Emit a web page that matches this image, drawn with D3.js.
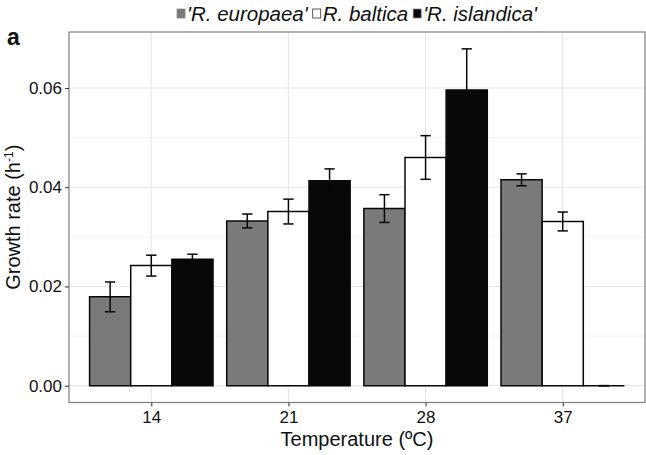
<!DOCTYPE html>
<html><head><meta charset="utf-8">
<script src="https://cdn.jsdelivr.net/npm/d3@7"></script>
<style>body{margin:0;background:#fff}svg{display:block}text{font-family:"Liberation Sans",Arial,Helvetica,sans-serif}</style>
</head><body><svg id="c" width="646" height="455"></svg>
<script>
const categories = ["14", "21", "28", "37"];
const seriesNames = ["'R. europaea'", "R. baltica", "'R. islandica'"];
const seriesColors = ["#7a7a7a", "#ffffff", "#080808"];
const europaea = [0.0179, 0.0332, 0.0357, 0.0415];
const europaeaErr = [0.0030, 0.0014, 0.0028, 0.0012];
const baltica = [0.0242, 0.0351, 0.0460, 0.0331];
const balticaErr = [0.0021, 0.0025, 0.0044, 0.0019];
const islandica = [0.0255, 0.0413, 0.0596, 0.0];
const islandicaErr = [0.0010, 0.0024, 0.0083, 0.0];
const yTicks = [0.00, 0.02, 0.04, 0.06];
const yMinor = [0.01, 0.03, 0.05, 0.07];

const values = [europaea, baltica, islandica];
const errs = [europaeaErr, balticaErr, islandicaErr];

const svg = d3.select("#c");
const L = 69, R = 645, T = 32, B = 402.5;
const FONT = '"Liberation Sans",Arial,Helvetica,sans-serif';
const INK = "#080808";

// ggplot discrete expansion: 0.6 units each side
const step = (R - L) / (categories.length - 1 + 1.2);
const xc = d3.scalePoint().domain(categories).range([L + 0.6 * step, R - 0.6 * step]);
const xs = d3.scaleBand().domain(d3.range(3)).range([-0.45 * step, 0.45 * step]);

const allHi = values.flatMap((v, i) => v.map((d, j) => d + errs[i][j]));
const ymax = d3.max(allHi);
const pad = ymax * 0.05;
const y = d3.scaleLinear().domain([-pad, ymax + pad]).range([B, T]);

// grid
const g = svg.append("g");
g.selectAll(".minor").data(yMinor.filter(v => v < ymax + pad)).join("line")
  .attr("x1", L).attr("x2", R).attr("y1", d => y(d)).attr("y2", d => y(d))
  .attr("stroke", "#f4f4f4").attr("stroke-width", 1);
g.selectAll(".major").data(yTicks).join("line")
  .attr("x1", L).attr("x2", R).attr("y1", d => y(d)).attr("y2", d => y(d))
  .attr("stroke", "#e8e8e8").attr("stroke-width", 1.1);
g.selectAll(".vmajor").data(categories).join("line")
  .attr("x1", d => xc(d)).attr("x2", d => xc(d)).attr("y1", T).attr("y2", B)
  .attr("stroke", "#e8e8e8").attr("stroke-width", 1.1);

// bars (as paths so zero-height bars still show their outline)
const bars = svg.append("g");
values.forEach((vals, si) => {
  bars.selectAll(".b" + si).data(vals).join("path")
    .attr("d", (d, j) => {
      const x0 = xc(categories[j]) + xs(si), w = xs.bandwidth();
      const y0 = y(0), y1 = y(d);
      return `M${x0},${y0}H${x0 + w}V${y1}H${x0}Z`;
    })
    .attr("fill", seriesColors[si])
    .attr("stroke", INK).attr("stroke-width", 1.5);
});
// error bars
const ew = xs.bandwidth() * 0.25;
values.forEach((vals, si) => {
  vals.forEach((d, j) => {
    const cx = xc(categories[j]) + xs(si) + xs.bandwidth() / 2;
    const lo = y(d - errs[si][j]), hi = y(d + errs[si][j]);
    const eg = bars.append("g").attr("stroke", INK).attr("stroke-width", 1.5);
    eg.append("line").attr("x1", cx).attr("x2", cx).attr("y1", lo).attr("y2", hi);
    eg.append("line").attr("x1", cx - ew / 2).attr("x2", cx + ew / 2).attr("y1", lo).attr("y2", lo);
    eg.append("line").attr("x1", cx - ew / 2).attr("x2", cx + ew / 2).attr("y1", hi).attr("y2", hi);
  });
});

// panel border
svg.append("rect").attr("x", L).attr("y", T).attr("width", R - L).attr("height", B - T)
  .attr("fill", "none").attr("stroke", "#7f7f7f").attr("stroke-width", 1.2);

// axes
const yAxis = d3.axisLeft(y).tickValues(yTicks).tickFormat(d3.format(".2f")).tickSize(4).tickPadding(3);
const ya = svg.append("g").attr("transform", `translate(${L},0)`).call(yAxis);
const xAxis = d3.axisBottom(xc).tickSize(4).tickPadding(4);
const xa = svg.append("g").attr("transform", `translate(0,${B})`).call(xAxis);
[ya, xa].forEach(a => {
  a.select(".domain").remove();
  a.selectAll(".tick line").attr("stroke", "#333");
  a.selectAll(".tick text").attr("fill", "#111").style("font-size", "17px").style("font-family", FONT);
});

// axis titles
svg.append("text").attr("x", (L + R) / 2).attr("y", 446).attr("text-anchor", "middle")
  .style("font-size", "20px").attr("fill", "#111").text("Temperature (ºC)");
const yl = svg.append("text").attr("transform", `translate(20,${(T + B) / 2}) rotate(-90)`)
  .attr("text-anchor", "middle").style("font-size", "20px").attr("fill", "#111");
yl.append("tspan").text("Growth rate (h");
yl.append("tspan").text("-1").attr("dy", -7).style("font-size", "12px");
yl.append("tspan").text(")").attr("dy", 7);

// panel tag
svg.append("text").attr("x", 7).attr("y", 45).style("font-size", "23px").style("font-weight", "bold")
  .attr("fill", "#111").text("a");

// legend
const lg = svg.append("g");
let cur = 0;
seriesNames.forEach((n, i) => {
  const it = lg.append("g");
  it.append("rect").attr("x", 0).attr("y", -12).attr("width", 8).attr("height", 9)
    .attr("fill", seriesColors[i]).attr("stroke", i === 1 ? "#333" : "#888").attr("stroke-width", 0.8);
  const t = it.append("text").attr("x", 10).attr("y", 0).style("font-size", "20.5px")
    .style("font-style", "italic").attr("fill", "#111").text(n);
  const w = 10 + t.node().getComputedTextLength();
  it.attr("transform", `translate(${cur},21)`);
  cur += w + 5;
});
const totalW = cur - 5;
lg.attr("transform", `translate(${(L + R) / 2 - totalW / 2},0)`);
</script></body></html>
